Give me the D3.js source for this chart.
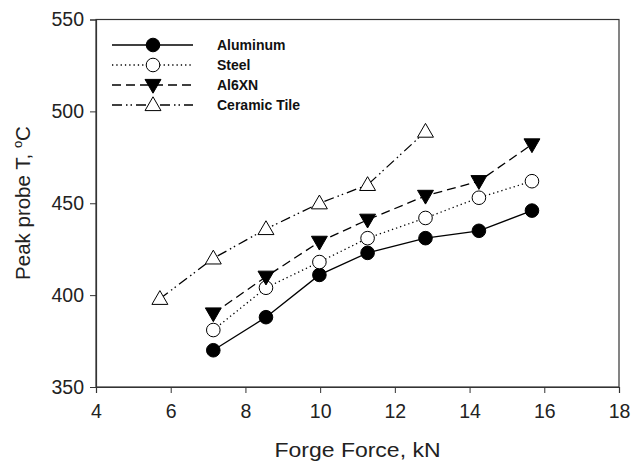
<!DOCTYPE html>
<html>
<head>
<meta charset="utf-8">
<script src="https://cdn.jsdelivr.net/npm/d3@7"></script>
<style>
  body { margin: 0; background: #fff; }
  svg { font-family: "Liberation Sans", Arial, sans-serif; }
</style>
</head>
<body>
<svg id="chart" width="632" height="461"></svg>
<script>
// data
const seriesNames = ["Aluminum", "Steel", "Al6XN", "Ceramic Tile"];
const aluminumX = [7.14, 8.55, 9.98, 11.27, 12.82, 14.25, 15.67];
const aluminumY = [370, 388, 411, 423, 431, 435, 446];
const steelX = [7.14, 8.55, 9.98, 11.27, 12.82, 14.25, 15.67];
const steelY = [381, 404, 418, 431, 442, 453, 462];
const al6xnX = [7.14, 8.55, 9.98, 11.27, 12.82, 14.25, 15.67];
const al6xnY = [390, 410, 429, 441, 454, 462, 482];
const ceramicX = [5.71, 7.14, 8.55, 9.98, 11.27, 12.82];
const ceramicY = [398, 420, 436, 450, 460, 489];
const xTicks = [4, 6, 8, 10, 12, 14, 16, 18];
const yTicks = [350, 400, 450, 500, 550];

const margin = { top: 19.5, right: 13, bottom: 74, left: 96 };
const width = 632 - margin.left - margin.right;
const height = 461 - margin.top - margin.bottom;

const svg = d3.select("#chart");
const g = svg.append("g")
    .attr("transform", `translate(${margin.left},${margin.top})`);

const x = d3.scaleLinear().domain([4, 18]).range([0, width]);
const y = d3.scaleLinear().domain([350, 550]).range([height, 0]);

// frame
g.append("rect")
    .attr("width", width)
    .attr("height", height)
    .attr("fill", "none")
    .attr("stroke", "#333")
    .attr("stroke-width", 1.2);

// axes
const xAxis = g.append("g")
    .attr("transform", `translate(0,${height})`)
    .call(d3.axisBottom(x).tickValues(xTicks).tickSize(6).tickPadding(11));
const yAxis = g.append("g")
    .call(d3.axisLeft(y).tickValues(yTicks).tickSize(6).tickPadding(6));

[xAxis, yAxis].forEach(a => {
    a.select(".domain").attr("stroke", "#333").attr("stroke-width", 1.2);
    a.selectAll(".tick line").attr("stroke", "#333");
    a.selectAll(".tick text")
        .attr("font-size", 19.5)
        .attr("fill", "#222")
        .attr("font-family", "Liberation Sans, Arial, sans-serif");
});

// axis titles
svg.append("text")
    .attr("x", margin.left + width / 2)
    .attr("y", 457)
    .attr("text-anchor", "middle")
    .attr("font-size", 20.5)
    .attr("fill", "#222")
    .attr("textLength", 166)
    .attr("lengthAdjust", "spacingAndGlyphs")
    .text("Forge Force, kN");

const yTitle = svg.append("text")
    .attr("transform", "translate(30,203) rotate(-90)")
    .attr("text-anchor", "middle")
    .attr("font-size", 20.5)
    .attr("fill", "#222");
yTitle.append("tspan").text("Peak probe T, ");
yTitle.append("tspan").attr("font-size", 13).attr("dy", -8).text("o");
yTitle.append("tspan").attr("dy", 8).text("C");

const series = [
    { name: seriesNames[0], xs: aluminumX, ys: aluminumY, dash: null, marker: "circle", fill: "#000" },
    { name: seriesNames[1], xs: steelX, ys: steelY, dash: "1.3,3", marker: "circle", fill: "#fff" },
    { name: seriesNames[2], xs: al6xnX, ys: al6xnY, dash: "9,5", marker: "down", fill: "#000" },
    { name: seriesNames[3], xs: ceramicX, ys: ceramicY, dash: "10,4,1.5,3,1.5,4", marker: "up", fill: "#fff" }
];

const line = d3.line().x(d => x(d[0])).y(d => y(d[1]));

function drawMarker(sel, s, cx, cy) {
    if (s.marker === "circle") {
        sel.append("circle")
            .attr("cx", cx).attr("cy", cy).attr("r", 6.8)
            .attr("fill", s.fill).attr("stroke", "#000").attr("stroke-width", 1);
    } else {
        const sym = d3.symbol().type(d3.symbolTriangle).size(110);
        sel.append("path")
            .attr("d", sym())
            .attr("transform", `translate(${cx},${cy + (s.marker === "down" ? -1 : 1)}) rotate(${s.marker === "down" ? 180 : 0})`)
            .attr("fill", s.fill).attr("stroke", "#000").attr("stroke-width", 1);
    }
}

series.forEach(s => {
    const pts = s.xs.map((v, i) => [v, s.ys[i]]);
    g.append("path")
        .datum(pts)
        .attr("fill", "none")
        .attr("stroke", "#000")
        .attr("stroke-width", 1.3)
        .attr("stroke-dasharray", s.dash)
        .attr("d", line);
    pts.forEach(p => drawMarker(g, s, x(p[0]), y(p[1])));
});

// legend
const legend = svg.append("g");
series.forEach((s, i) => {
    const ly = 45 + i * 20;
    legend.append("line")
        .attr("x1", 112).attr("x2", 193)
        .attr("y1", ly).attr("y2", ly)
        .attr("stroke", "#000")
        .attr("stroke-width", 1.3)
        .attr("stroke-dasharray", s.dash);
    drawMarker(legend, s, 153, ly);
    legend.append("text")
        .attr("x", 217)
        .attr("y", ly + 5)
        .attr("font-size", 14)
        .attr("font-weight", "bold")
        .attr("fill", "#111")
        .text(s.name);
});
</script>
</body>
</html>
